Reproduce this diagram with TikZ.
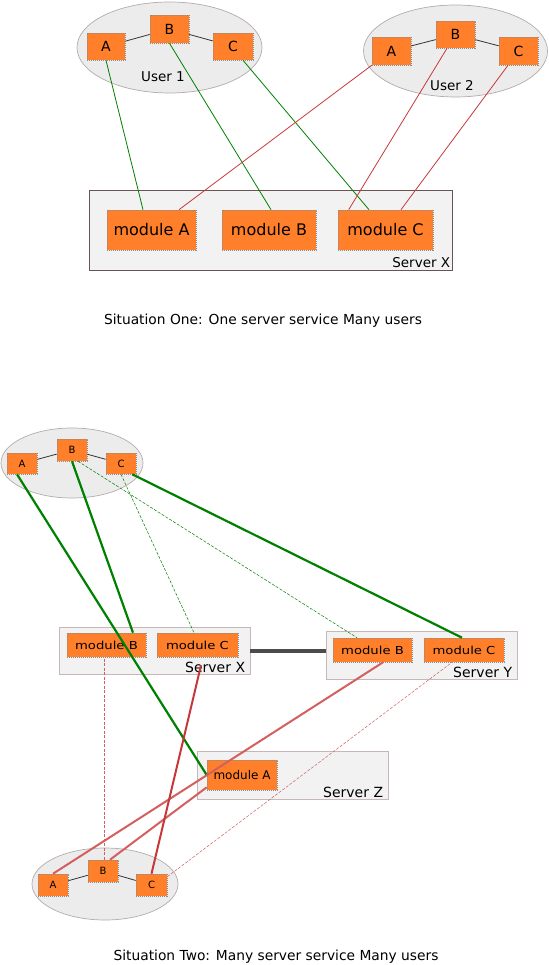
\documentclass[tikz,border=0pt]{standalone}
\usepackage{fontspec}
\setmainfont{DejaVu Sans}
\usetikzlibrary{shapes.geometric}
\definecolor{figO}{RGB}{255,127,42}
\definecolor{figG}{RGB}{0,128,0}
\definecolor{figR}{RGB}{200,55,55}
\definecolor{figRl}{RGB}{211,95,95}
\definecolor{figE}{RGB}{236,236,236}
\definecolor{figEd}{RGB}{183,170,170}
\definecolor{figS}{RGB}{242,242,242}
\definecolor{figSd}{RGB}{108,83,83}
\definecolor{figSl}{RGB}{200,183,183}
\newcommand{\fsz}[1]{\fontsize{#1}{#1}\selectfont}
\newcommand{\wide}[1]{\scalebox{1.2}[1]{#1}}
\tikzset{
  modbox/.style={draw=black!45, dash pattern=on 1.2pt off 0.8pt, line width=0.6pt, fill=figO, inner sep=0pt},
  usercloud/.style={ellipse, draw=figEd, fill=figE, line width=0.7pt, inner sep=0pt},
  srvbox/.style={fill=figS, line width=0.7pt, inner sep=0pt},
  tie/.style={draw=black!80, line width=0.8pt},
  thinfade/.style={line width=0.5pt, dash pattern=on 3pt off 1.5pt},
}

\begin{document}
\begin{tikzpicture}[x=1pt, y=-1pt]
\useasboundingbox (0,0) rectangle (548,965);
% Top: one server, two users
\begin{scope}
\node[usercloud, minimum width=185pt, minimum height=91pt] (user1) at (169.5,47.5) {};
\node[usercloud, minimum width=184pt, minimum height=92pt] (user2) at (455.5,51) {};
\node[font=\fsz{13.5}] (user1lbl) at (163,77) {User 1};
\node[font=\fsz{13.5}] (user2lbl) at (452,86) {User 2};
\node[modbox, font=\fsz{14}, minimum width=38pt, minimum height=27pt] (u1a) at (106,46.5) {A};
\node[modbox, font=\fsz{14}, minimum width=39pt, minimum height=28pt] (u1b) at (169.5,29) {B};
\node[modbox, font=\fsz{14}, minimum width=40pt, minimum height=27pt] (u1c) at (233,46.5) {C};
\node[modbox, font=\fsz{14}, minimum width=39pt, minimum height=28pt] (u2a) at (391.5,51) {A};
\node[modbox, font=\fsz{14}, minimum width=39pt, minimum height=27pt] (u2b) at (455.5,34.5) {B};
\node[modbox, font=\fsz{14}, minimum width=39pt, minimum height=28pt] (u2c) at (518.5,51) {C};
\draw[tie] (u1a) -- (u1b);
\draw[tie] (u1b) -- (u1c);
\draw[tie] (u2a) -- (u2b);
\draw[tie] (u2b) -- (u2c);
\node[srvbox, draw=figSd, minimum width=363pt, minimum height=80pt] (srv) at (270.5,230) {};
\node[font=\fsz{13.5}, anchor=base east, inner sep=0pt] (srvlbl) at ([xshift=-2pt,yshift=3pt]srv.south east) {Server X};
\node[modbox, font=\fsz{16}, minimum width=89pt, minimum height=40pt] (ma) at (151.5,230) {module A};
\node[modbox, font=\fsz{16}, minimum width=94pt, minimum height=40pt] (mb) at (269,230) {module B};
\node[modbox, font=\fsz{16}, minimum width=95pt, minimum height=40pt] (mc) at (385.5,230) {module C};
\draw[figG, line width=0.8pt] (u1a.south) -- ([xshift=-8.5pt]ma.north);
\draw[figG, line width=0.8pt] (u1b.south) -- ([xshift=2pt]mb.north);
\draw[figG, line width=0.8pt] ([xshift=10pt]u1c.south) -- ([xshift=-16.5pt]mc.north);
\draw[figR, line width=0.8pt] (u2a.south west) -- ([xshift=27.5pt]ma.north);
\draw[figR, line width=0.8pt] ([xshift=-8.5pt]u2b.south) -- ([xshift=11pt]mc.north west);
\draw[figR, line width=0.8pt] ([xshift=-10.5pt]u2c.south) -- ([xshift=15.5pt]mc.north);
\node[font=\fsz{13.8}] (cap1) at (263,321) {Situation One: One server service Many users};
\end{scope}
% Bottom: three servers, two users
\begin{scope}
\node[usercloud, minimum width=142pt, minimum height=70pt] (tuser) at (72,463) {};
\node[usercloud, minimum width=146pt, minimum height=72pt] (buser) at (105,884) {};
\node[modbox, font=\fsz{10}, minimum width=30pt, minimum height=21pt] (ta) at (22,463.5) {A};
\node[modbox, font=\fsz{10}, minimum width=30pt, minimum height=22pt] (tb) at (72,450) {B};
\node[modbox, font=\fsz{10}, minimum width=30pt, minimum height=21pt] (tc) at (121,463.5) {C};
\node[modbox, font=\fsz{10}, minimum width=30pt, minimum height=22pt] (ba) at (53,885) {A};
\node[modbox, font=\fsz{10}, minimum width=30pt, minimum height=22pt] (bb) at (103,871) {B};
\node[modbox, font=\fsz{10}, minimum width=31pt, minimum height=22pt] (bc) at (151.5,885) {C};
\draw[tie] (ta) -- (tb);
\draw[tie] (tb) -- (tc);
\draw[tie] (ba) -- (bb);
\draw[tie] (bb) -- (bc);
\node[srvbox, draw=figSl, minimum width=191pt, minimum height=47pt] (xsrv) at (154.5,650.5) {};
\node[srvbox, draw=figSl, minimum width=191pt, minimum height=48pt] (ysrv) at (421.5,655) {};
\node[srvbox, draw=figSl, minimum width=191pt, minimum height=48pt] (zsrv) at (292.5,775) {};
\node[font=\fsz{14}, anchor=base east, inner sep=0pt] (xlbl) at ([xshift=-5pt,yshift=2pt]xsrv.south east) {Server X};
\node[font=\fsz{14}, anchor=base east, inner sep=0pt] (ylbl) at ([xshift=-5pt,yshift=2pt]ysrv.south east) {Server Y};
\node[font=\fsz{14}, anchor=base east, inner sep=0pt] (zlbl) at ([xshift=-5pt,yshift=2pt]zsrv.south east) {Server Z};
\draw[draw=black!70, line width=4pt] (xsrv.east) -- (xsrv.east -| ysrv.west);
\node[modbox, font=\fsz{11}, minimum width=79pt, minimum height=24pt] (xmB) at (106.5,645) {\wide{module B}};
\node[modbox, font=\fsz{11}, minimum width=81pt, minimum height=24pt] (xmC) at (197.5,645) {\wide{module C}};
\node[modbox, font=\fsz{11}, minimum width=79pt, minimum height=24pt] (ymB) at (372.5,650) {\wide{module B}};
\node[modbox, font=\fsz{11}, minimum width=80pt, minimum height=24pt] (ymC) at (464,650) {\wide{module C}};
\node[modbox, font=\fsz{12}, minimum width=70pt, minimum height=30pt] (zmA) at (242,775) {module A};
% user on top
\draw[figG, line width=2.2pt] ([xshift=-5pt]ta.south) -- (zmA.west);
\draw[figG, line width=2.2pt] (tb.south) -- ([xshift=26.5pt]xmB.north);
\draw[figG, line width=2.2pt] ([xshift=-4pt]tc.south east) -- ([xshift=-2pt]ymC.north);
\draw[figG, thinfade] ([xshift=6pt]tb.south) -- ([xshift=-15.5pt]ymB.north);
\draw[figG, thinfade] (tc.south) -- ([xshift=-3.5pt]xmC.north);
% user at the bottom
\draw[figRl, line width=2pt] (ba.north) -- ([xshift=10.5pt]ymB.south);
\draw[figRl, line width=2pt] ([xshift=7pt]bb.north) -- ([yshift=3pt]zmA.south west);
\draw[figR, line width=2pt] (bc.north) -- ([xshift=3.5pt,yshift=-8pt]xmC.south);
\draw[figRl, thinfade] ([xshift=1pt]bb.north) -- ([xshift=-2.5pt]xmB.south);
\draw[figRl, thinfade] ([yshift=-3pt]bc.north east) -- ([xshift=-12pt]ymC.south);
\node[font=\fsz{13.8}] (cap2) at (276,957) {Situation Two: Many server service Many users};
\end{scope}
\end{tikzpicture}
\end{document}
